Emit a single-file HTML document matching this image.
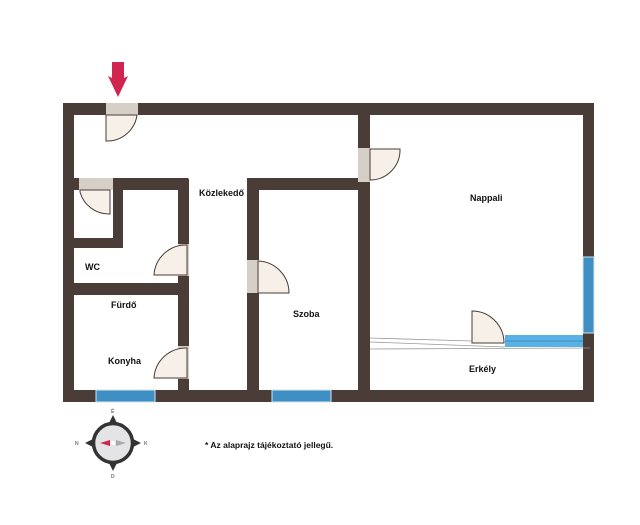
<!DOCTYPE html>
<html><head><meta charset="utf-8"><style>
html,body{margin:0;padding:0;background:#fff;}
svg{display:block;}
text{font-family:"Liberation Sans",sans-serif;font-weight:bold;font-size:9px;fill:#111;}
</style></head><body>
<svg width="640" height="525" viewBox="0 0 640 525" xmlns="http://www.w3.org/2000/svg">
<rect width="640" height="525" fill="#fff"/>
<!-- arrow -->
<polygon points="112,62 124,62 124,78 128,76 118,97 108,76 112,78" fill="#d0254e"/>
<g fill="#4a3c36">
<rect x="63" y="103" width="531" height="12" rx="3"/>
<rect x="63" y="103" width="11" height="299"/>
<rect x="583" y="103" width="11" height="299"/>
<rect x="63" y="390" width="531" height="12"/>
<rect x="358" y="103" width="12" height="299"/>
<rect x="74" y="178" width="114" height="12"/>
<rect x="113" y="178" width="10" height="70"/>
<rect x="74" y="238" width="49" height="10"/>
<rect x="178" y="178" width="11" height="224" rx="2"/>
<rect x="74" y="283" width="104" height="12"/>
<rect x="247" y="178" width="12" height="224"/>
<rect x="247" y="178" width="111" height="12"/>
</g>
<g fill="#3f8fc4" stroke="#cfe3ef" stroke-width="1">
<rect x="96" y="390" width="59" height="12"/>
<rect x="272" y="390" width="59" height="12"/>
<rect x="583" y="257" width="11" height="76"/>
</g>
<rect x="505" y="335" width="78" height="12" fill="#5ab2e4"/>
<line x1="505" y1="341" x2="583" y2="341" stroke="#3f8fc4" stroke-width="1"/>
<g stroke="#999" stroke-width="0.8" fill="none">
<line x1="370" y1="338" x2="472" y2="341"/>
<line x1="370" y1="342" x2="505" y2="347"/>
<line x1="370" y1="349" x2="590" y2="348"/>
</g>
<g fill="#d6cfc8">
<rect x="106" y="103" width="32" height="12"/>
<rect x="79" y="178" width="34" height="12"/>
<rect x="358" y="148" width="12" height="34"/>
<rect x="178" y="244" width="11" height="32"/>
<rect x="178" y="346" width="11" height="33"/>
<rect x="247" y="260" width="12" height="33"/>
</g>
<g fill="#f7f0e8" stroke="#4a3c36" stroke-width="1">
<path d="M106,115 L106,141 A30,30 0 0 0 137,115 Z"/>
<path d="M80,190 L80,192 A30,30 0 0 0 110,214 L110,190 Z"/>
<path d="M370,149 L370,180 A30,30 0 0 0 400,149 Z"/>
<path d="M187,245 L187,275 L154,275 A32,32 0 0 1 187,245 Z"/>
<path d="M187,348 L187,378 L154,378 A32,32 0 0 1 187,348 Z"/>
<path d="M258,261 L258,293 L289,293 A32,32 0 0 0 258,261 Z"/>
<path d="M472,311 L472,343 L504,343 A32,32 0 0 0 472,311 Z"/>
</g>
<text x="199" y="196">Közlekedő</text>
<text x="470" y="201">Nappali</text>
<text x="85" y="270">WC</text>
<text x="111" y="308">Fürdő</text>
<text x="293" y="317">Szoba</text>
<text x="108" y="364">Konyha</text>
<text x="469" y="372">Erkély</text>
<text x="205" y="448" style="font-size:8.5px">* Az alaprajz tájékoztató jellegű.</text>
<g transform="translate(113,443)">
<polygon points="0,-28 5,-18 -5,-18" fill="#333"/>
<polygon points="0,28 5,18 -5,18" fill="#333"/>
<polygon points="-28,0 -18,5 -18,-5" fill="#333"/>
<polygon points="28,0 18,5 18,-5" fill="#333"/>
<circle r="19.5" fill="#e4e4e6" stroke="#333" stroke-width="3.5"/>
<polygon points="-13,0 -3,-3 -3,3" fill="#d0254e"/>
<polygon points="13,0 3,-3 3,3" fill="#aaa"/>
<circle r="2" fill="#fff"/>
<text x="-2" y="-30" style="font-size:5px;fill:#777">É</text>
<text x="-38" y="2" style="font-size:5px;fill:#777">N</text>
<text x="31" y="2" style="font-size:5px;fill:#777">K</text>
<text x="-2" y="35" style="font-size:5px;fill:#777">D</text>
</g>
</svg>
</body></html>
